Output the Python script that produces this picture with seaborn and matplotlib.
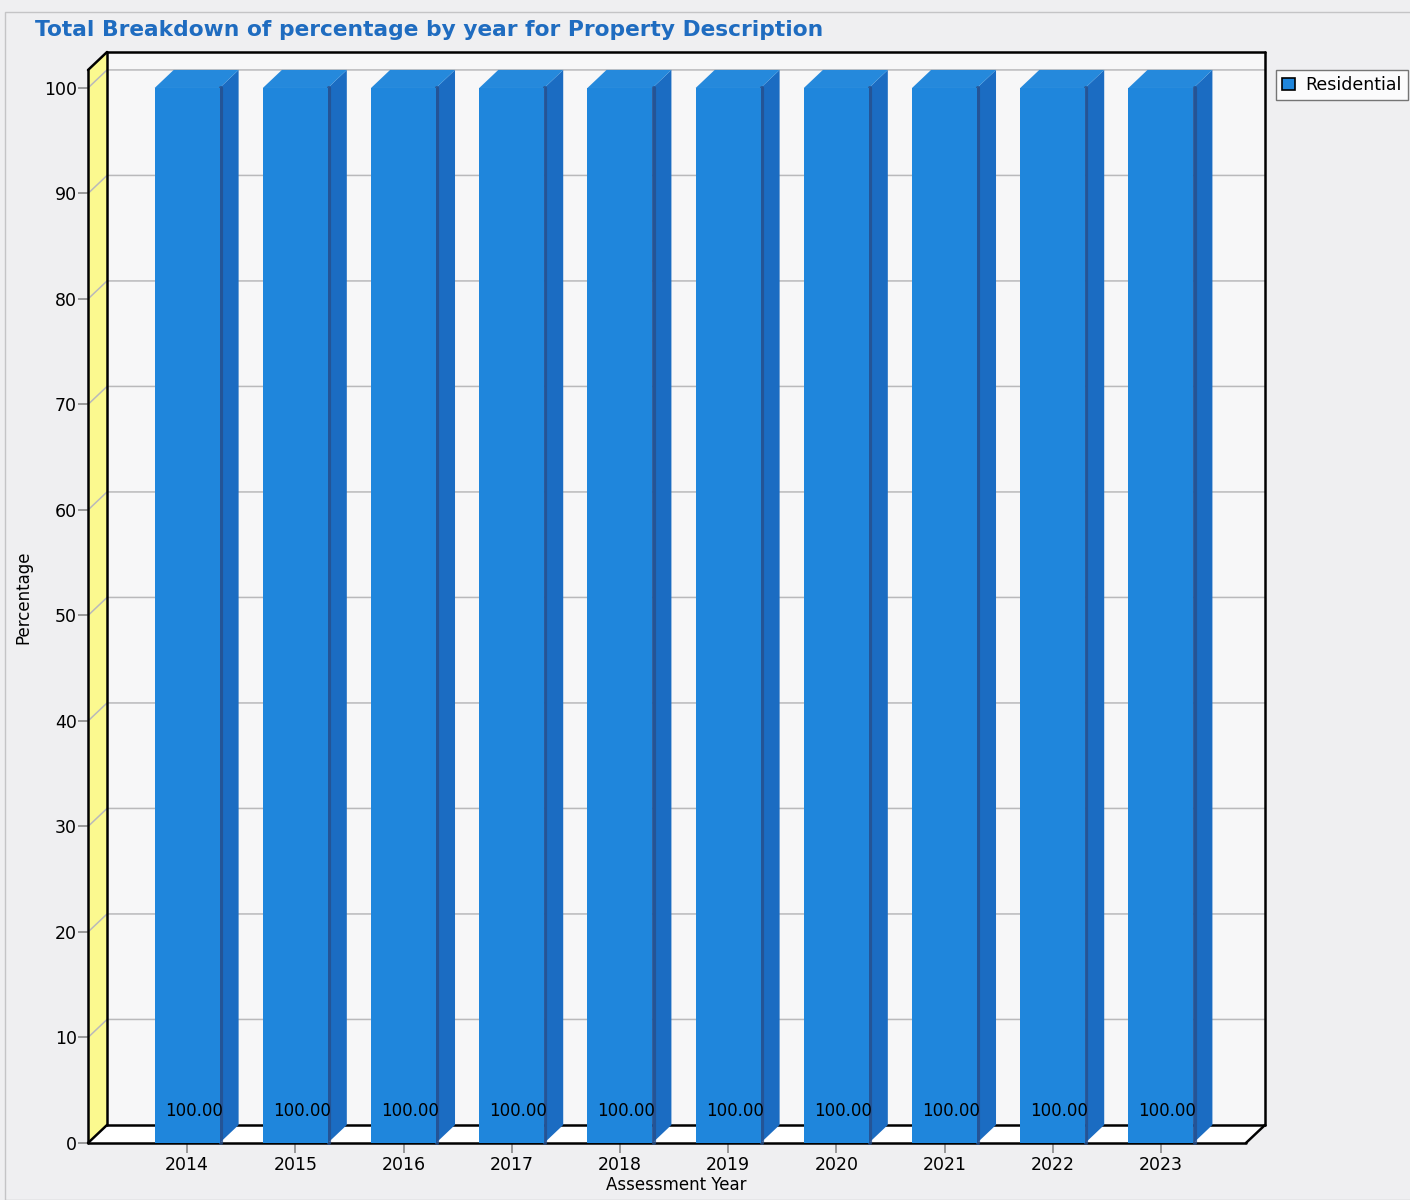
import matplotlib
matplotlib.use("Agg")
import matplotlib.pyplot as plt
from matplotlib.patches import Polygon, Rectangle
from matplotlib.lines import Line2D
import seaborn as sns
import pandas as pd

# ---- data -------------------------------------------------------------
years = ["2014", "2015", "2016", "2017", "2018",
         "2019", "2020", "2021", "2022", "2023"]
residential = [100.0, 100.0, 100.0, 100.0, 100.0,
               100.0, 100.0, 100.0, 100.0, 100.0]
y_ticks = [0, 10, 20, 30, 40, 50, 60, 70, 80, 90, 100]
series_name = "Residential"

df = pd.DataFrame({"Assessment Year": years, "Percentage": residential})

# ---- style ------------------------------------------------------------
sns.set_theme(style="white")
plt.rcParams["font.family"] = ["DejaVu Sans"]
plt.rcParams["text.color"] = "black"
plt.rcParams["axes.labelcolor"] = "black"
plt.rcParams["xtick.color"] = "black"
plt.rcParams["ytick.color"] = "black"

BG = "#efeff1"
WALL = "#f7f7f8"
LEFT_WALL = "#fbf98f"
FRONT = "#1f86dc"
SIDE = "#1b6cc2"
SIDE_EDGE = "#274f8c"
TOP = "#2589dc"
GRID = "#b9b9bb"
TITLE_BLUE = "#1f6cc0"

W, H = 1410, 1200
fig = plt.figure(figsize=(W / 100, H / 100), dpi=100, facecolor=BG)

# front plane of the 3-D box, in pixels
px_left, px_right, px_bottom, px_top = 88, 1265, 1143, 52
ax = fig.add_axes([px_left / W, (H - px_bottom) / H,
                   (px_right - px_left) / W, (px_bottom - px_top) / H])
ax.set_facecolor("none")

# box geometry in data units (front plane + depth offset)
X0, X1 = -0.916, 9.786
DX, DY = 0.176, 1.71
YTOP = 101.7

# front faces of the bars
sns.barplot(data=df, x="Assessment Year", y="Percentage", color=FRONT,
            width=0.6, saturation=1, ax=ax, zorder=3, linewidth=0)
ax.set_xlim(X0, X1 + DX)
ax.set_ylim(0, YTOP + DY)

# back wall, left wall and floor
ax.add_patch(Rectangle((X0 + DX, DY), X1 - X0, YTOP, facecolor=WALL,
                       edgecolor="none", zorder=0))
ax.add_patch(Polygon([(X0, 0), (X0, YTOP), (X0 + DX, YTOP + DY), (X0 + DX, DY)],
                     closed=True, facecolor=LEFT_WALL, edgecolor="none",
                     zorder=0.5, clip_on=False))
ax.add_patch(Polygon([(X0, 0), (X1, 0), (X1 + DX, DY), (X0 + DX, DY)],
                     closed=True, facecolor="white", edgecolor="none",
                     zorder=0.5, clip_on=False))

# gridlines on the left and back walls
for v in y_ticks[1:]:
    ax.add_line(Line2D([X0, X0 + DX, X1 + DX], [v, v + DY, v + DY],
                       color=GRID, lw=1.1, zorder=0.8, clip_on=False))

# box outline
outline = [
    ([X0, X0], [0, YTOP]),
    ([X0, X0 + DX], [YTOP, YTOP + DY]),
    ([X0 + DX, X0 + DX], [DY, YTOP + DY]),
    ([X0 + DX, X1 + DX], [YTOP + DY, YTOP + DY]),
    ([X1 + DX, X1 + DX], [DY, YTOP + DY]),
    ([X0 + DX, X1 + DX], [DY, DY]),
    ([X0, X1], [0, 0]),
    ([X1, X1 + DX], [0, DY]),
    ([X0, X0 + DX], [0, DY]),
]
for xs, ys in outline:
    ax.add_line(Line2D(xs, ys, color="black", lw=1.8, zorder=1,
                       clip_on=False, solid_capstyle="round"))

# side and top faces of every bar
bars = [p for p in ax.patches
        if isinstance(p, Rectangle) and p.get_width() < 1]
for bar in bars:
    xl = bar.get_x()
    xr = xl + bar.get_width()
    v = bar.get_height()
    ax.add_patch(Polygon([(xr, 0), (xr, v), (xr + DX, v + DY), (xr + DX, DY)],
                         closed=True, facecolor=SIDE, edgecolor="none",
                         zorder=2.5, clip_on=False))
    ax.add_line(Line2D([xr + 0.012, xr + 0.012], [0, v], color=SIDE_EDGE,
                       lw=3, zorder=2.6, alpha=0.8, clip_on=False))
    ax.add_patch(Polygon([(xl, v), (xr, v), (xr + DX, v + DY), (xl + DX, v + DY)],
                         closed=True, facecolor=TOP, edgecolor="none",
                         zorder=2.5, clip_on=False))

# value labels near the base of each bar
for i, val in enumerate(residential):
    ax.text(i + 0.06, 3.0, f"{val:.2f}", ha="center", va="center",
            fontsize=12, color="black", zorder=4)

# axes, ticks and labels
for s in ax.spines.values():
    s.set_visible(False)
ax.set_yticks(y_ticks)
ax.set_yticklabels([str(t) for t in y_ticks], fontsize=12.5)
ax.set_xticks(range(len(years)))
ax.set_xticklabels(years, fontsize=12.5)
ax.tick_params(axis="y", length=7, width=1.2, color="#8a8a8a", pad=1,
               left=True, labelcolor="black")
ax.tick_params(axis="x", length=7, width=1.2, color="#8a8a8a", pad=2,
               bottom=True, labelcolor="black")
ax.set_xlabel("Assessment Year", fontsize=12, labelpad=2, color="black")
ax.set_ylabel("Percentage", fontsize=12, labelpad=8, color="black")
ax.grid(False)

# legend
handle = Rectangle((0, 0), 1, 1, facecolor=FRONT, edgecolor="black", lw=1.2)
leg = fig.legend([handle], [series_name], loc="upper left",
                 bbox_to_anchor=(1276 / W, 1 - 70 / H), frameon=True,
                 fontsize=12.5, handlelength=0.75, handleheight=0.75,
                 handletextpad=0.6, borderpad=0.35, borderaxespad=0,
                 fancybox=False)
leg.get_frame().set_edgecolor("#555555")
leg.get_frame().set_facecolor("white")
leg.get_frame().set_linewidth(1.0)

# title
fig.text(35 / W, 1 - 30 / H,
         "Total Breakdown of percentage by year for Property Description",
         ha="left", va="center", fontsize=15.7, fontweight="bold",
         color=TITLE_BLUE)

# outer chart frame
fig.add_artist(Rectangle((5 / W, 0), 1.2, 1 - 12 / H, transform=fig.transFigure,
                         facecolor="none", edgecolor="#c4c4c6", lw=1.0))

fig.savefig("out.png", dpi=100, facecolor=BG)
